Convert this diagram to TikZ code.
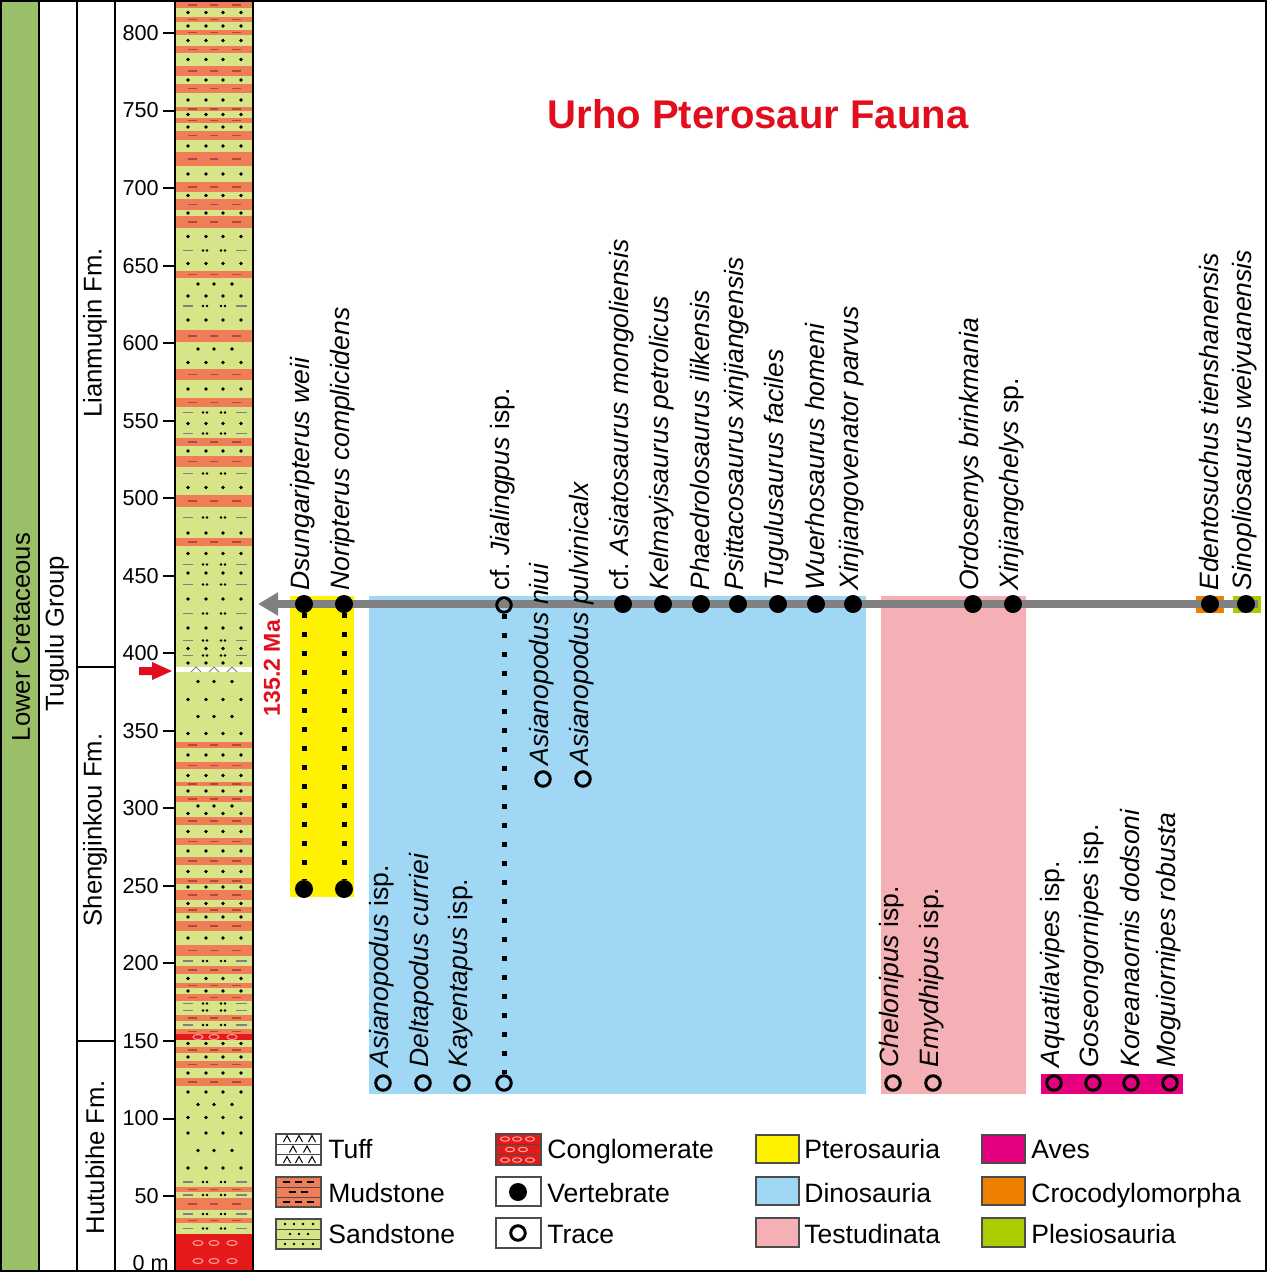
\documentclass[tikz,border=0pt]{standalone}
\usepackage{fontspec}
\setmainfont{Liberation Sans}
\usetikzlibrary{arrows.meta}

\newcommand{\bedS}[2]{%
\fill[sandcolor] (175,#1) rectangle (253,#2);
\pgfmathsetmacro\bedmid{(#1+#2)/2}
\foreach \xx in {188,206,223,241} {\fill (\xx,\bedmid) circle [radius=0.36mm];}
\draw[bedline] (175,#2) -- (253,#2);}
\newcommand{\bedT}[2]{%
\fill[sandcolor] (175,#1) rectangle (253,#2);
\pgfmathsetmacro\bedmid{(#1+#2)/2}
\foreach \xx in {198,214,232} {\fill (\xx,\bedmid) circle [radius=0.36mm];}
\draw[bedline] (175,#2) -- (253,#2);}
\newcommand{\bedL}[2]{%
\fill[sandcolor] (175,#1) rectangle (253,#2);
\pgfmathsetmacro\bedmid{(#1+#2)/2}
\draw[black!50,line width=0.28mm] (183,\bedmid) -- (193,\bedmid) (236,\bedmid) -- (247,\bedmid);
\foreach \xx in {203,207,221,225} {\fill (\xx,\bedmid) circle [radius=0.28mm];}
\draw[bedline] (175,#2) -- (253,#2);}
\newcommand{\bedM}[2]{%
\fill[mudcolor] (175,#1) rectangle (253,#2);
\pgfmathsetmacro\bedmid{(#1+#2)/2}
\draw[mudline,line width=0.28mm] (188,\bedmid) -- (197,\bedmid) (210,\bedmid) -- (218,\bedmid) (232,\bedmid) -- (241,\bedmid);
\draw[bedline] (175,#2) -- (253,#2);}
\newcommand{\bedC}[2]{%
\fill[conglcolor] (175,#1) rectangle (253,#2);
\pgfmathsetmacro\bedmid{(#1+#2)/2}
\foreach \xx in {198,214,232} {\draw[red!35,line width=0.2mm] (\xx,\bedmid) ellipse [x radius=1mm,y radius=0.5mm];}
\draw[bedline] (175,#2) -- (253,#2);}
\newcommand{\bedW}[2]{%
\fill[white] (175,#1) rectangle (253,#2);
\foreach \xx in {196,214,232} {\draw[black!50,line width=0.2mm] ({\xx-5},#2) -- (\xx,#1) -- ({\xx+5},#2);}
\draw[bedline] (175,#2) -- (253,#2);}

\begin{document}
\begin{tikzpicture}[x=0.2mm,y=-0.2mm,
  every node/.style={inner sep=0pt},
  taxon/.style={rotate=90,anchor=west,font=\fontsize{15.1}{18}\selectfont},
  vert/.style={circle,fill=black,minimum size=3.6mm},
  trace/.style={circle,draw=black,line width=0.6mm,minimum size=2.9mm},
  rangeline/.style={line width=1mm,dash pattern=on 1mm off 2.8mm},
  colrule/.style={line width=0.4mm},
  bedline/.style={line width=0.15mm,draw=black!70},
  swatch/.style={draw=black!70,line width=0.25mm},
  legtext/.style={anchor=base west,font=\fontsize{15.1}{18}\selectfont},
  scalenum/.style={anchor=east,font=\fontsize{12.3}{14}\selectfont},
  unitname/.style={rotate=90,font=\fontsize{14.6}{17}\selectfont}]
\definecolor{sandcolor}{RGB}{215,228,135}
\definecolor{mudcolor}{RGB}{238,125,88}
\definecolor{mudline}{RGB}{175,75,50}
\definecolor{conglcolor}{RGB}{228,25,25}
\definecolor{agecolor}{RGB}{155,190,105}
\definecolor{titlecolor}{RGB}{225,15,30}
\definecolor{pterocolor}{RGB}{255,242,0}
\definecolor{dinocolor}{RGB}{160,215,245}
\definecolor{testcolor}{RGB}{244,176,180}
\definecolor{avescolor}{RGB}{228,0,127}
\definecolor{crococolor}{RGB}{238,128,0}
\definecolor{plesiocolor}{RGB}{170,204,0}
\definecolor{arrowgray}{RGB}{128,128,128}
\useasboundingbox (0,0) rectangle (1268,1273);
\fill[agecolor] (2,2) rectangle (38,1271);
\foreach \ya/\yb/\k in {2/8/M,8/17/S,17/22/M,22/30/S,30/35/M,35/46/S,46/53/M,53/66/S,66/76/M,76/84/S,84/93/M,93/107/S,107/111/M,111/118/S,118/123/M,123/131/S,131/140/M,140/152/S,152/166/M,166/182/S,182/192/M,192/199/S,199/210/M,210/216/S,216/228/M,228/245/S,245/256/L,256/271/S,271/278/M,278/290/T,290/302/S,302/310/L,310/330/S,330/342/M,342/356/T,356/369/S,369/380/M,380/398/S,398/407/M,407/418/L,418/429/S,429/438/L,438/446/M,446/456/S,456/467/M,467/480/L,480/495/S,495/507/M,507/528/L,528/538/S,538/546/M,546/561/S,561/568/L,568/578/S,578/591/L,591/607/S,607/620/L,620/636/S,636/645/L,645/652/S,652/659/L,659/667/S,667/672/W,672/691/T,691/708/S,708/725/T,725/742/S,742/748/M,748/762/S,762/769/M,769/782/S,782/786/M,786/796/S,796/802/M,802/810/T,810/817/S,817/825/M,825/838/S,838/845/M,845/857/S,857/865/M,865/878/S,878/884/M,884/890/S,890/900/M,900/907/S,907/913/M,913/921/S,921/931/M,931/945/S,945/956/M,956/966/L,966/974/M,974/983/S,983/988/M,988/994/S,994/1001/M,1001/1006/L,1006/1015/L,1015/1021/M,1021/1029/L,1029/1034/M,1034/1040/C,1040/1047/S,1047/1053/M,1053/1061/S,1061/1068/M,1068/1078/S,1078/1086/M,1086/1098/S,1098/1111/T,1111/1124/S,1124/1142/S,1142/1159/T,1159/1177/S,1177/1187/L,1187/1192/M,1192/1198/L,1198/1210/M,1210/1218/L,1218/1223/M,1223/1234/L,1234/1252/C,1252/1270/C}
  {\csname bed\k\endcsname{\ya}{\yb}}
\draw[colrule] (39,1) -- (39,1271) (77,1) -- (77,1271) (115,1) -- (115,1271) (175,1) -- (175,1271) (253,1) -- (253,1271);
\draw[colrule] (77,667) -- (115,667) (77,1041) -- (115,1041);
\draw[colrule] (1,1) rectangle (1266,1271);
\node[unitname] (lowcret) at (21,637) {Lower Cretaceous};
\node[unitname] (tugulu) at (57,634) {Tugulu Group};
\node[unitname] (lianmuqin) at (95,333) {Lianmuqin Fm.};
\node[unitname] (shengjinkou) at (95,830) {Shengjinkou Fm.};
\node[unitname] (hutubihe) at (95,1157) {Hutubihe Fm.};
\foreach \m in {50,100,...,800} {
  \draw[colrule] (163,{1273.6-1.5508*\m}) -- (175,{1273.6-1.5508*\m});
  \node[scalenum] (tick\m) at (159,{1273.6-1.5508*\m}) {\m};}
\node[scalenum] (tick0) at (169,1263) {0 m};
\fill[titlecolor] (139,667) -- (152,667) -- (152,662) -- (172,671) -- (152,680) -- (152,675) -- (139,675) -- cycle;
\node[rotate=90,font=\fontsize{13.1}{15}\selectfont\bfseries,text=titlecolor] (agelabel) at (272,668) {135.2 Ma};
\node[font=\fontsize{22.8}{26}\selectfont\bfseries,text=titlecolor] (title) at (758,114) {Urho Pterosaur Fauna};
\fill[pterocolor] (290,596) rectangle (354,897);
\fill[dinocolor] (369,596) rectangle (866,1094);
\fill[testcolor] (881,596) rectangle (1026,1094);
\fill[avescolor] (1041,1074) rectangle (1183,1094);
\fill[crococolor] (1196,596) rectangle (1224,613);
\fill[plesiocolor] (1233,596) rectangle (1261,613);
\coordinate (arrowend) at (1258,604);
\coordinate (arrowtip) at (258,604);
\draw[arrowgray,line width=1.6mm,-{Triangle[length=4mm,width=4.4mm]}] (arrowend) -- (arrowtip);
\node[vert] (dsu) at (304,604) {};
\node[vert] (dsub) at (304,889) {};
\node[vert] (nor) at (344,604) {};
\node[vert] (norb) at (344,889) {};
\node[trace] (jia) at (504,605) {};
\node[trace] (jiab) at (504,1083) {};
\draw[rangeline] (dsu) -- (dsub);
\draw[rangeline] (nor) -- (norb);
\draw[rangeline] (jia) -- (jiab);
\node[vert] (asi) at (623,604) {};
\node[vert] (kel) at (663,604) {};
\node[vert] (pha) at (701,604) {};
\node[vert] (psi) at (738,604) {};
\node[vert] (tug) at (778,604) {};
\node[vert] (wue) at (816,604) {};
\node[vert] (xve) at (853,604) {};
\node[vert] (ord) at (973,604) {};
\node[vert] (xch) at (1013,604) {};
\node[vert] (ede) at (1210,604) {};
\node[vert] (sin) at (1246,604) {};
\node[trace] (anu) at (543,779) {};
\node[trace] (apu) at (583,779) {};
\node[trace] (aisp) at (383,1083) {};
\node[trace] (del) at (423,1083) {};
\node[trace] (kay) at (462,1083) {};
\node[trace] (che) at (893,1083) {};
\node[trace] (emy) at (933,1083) {};
\node[trace] (aqu) at (1054,1083) {};
\node[trace] (gos) at (1093,1083) {};
\node[trace] (kor) at (1131,1083) {};
\node[trace] (mog) at (1170,1083) {};
\node[taxon] (dsul) at (303,591) {\textit{Dsungaripterus weii}};
\node[taxon] (norl) at (343,591) {\textit{Noripterus complicidens}};
\node[taxon] (jial) at (503,591) {cf.\ \textit{Jialingpus} isp.};
\node[taxon] (asil) at (622,591) {cf.\ \textit{Asiatosaurus mongoliensis}};
\node[taxon] (kell) at (662,591) {\textit{Kelmayisaurus petrolicus}};
\node[taxon] (phal) at (700,591) {\textit{Phaedrolosaurus ilikensis}};
\node[taxon] (psil) at (737,591) {\textit{Psittacosaurus xinjiangensis}};
\node[taxon] (tugl) at (777,591) {\textit{Tugulusaurus faciles}};
\node[taxon] (wuel) at (815,591) {\textit{Wuerhosaurus homeni}};
\node[taxon] (xvel) at (852,591) {\textit{Xinjiangovenator parvus}};
\node[taxon] (ordl) at (972,591) {\textit{Ordosemys brinkmania}};
\node[taxon] (xchl) at (1012,591) {\textit{Xinjiangchelys} sp.};
\node[taxon] (edel) at (1209,591) {\textit{Edentosuchus tienshanensis}};
\node[taxon] (sinl) at (1245,591) {\textit{Sinopliosaurus weiyuanensis}};
\node[taxon] (anul) at (542,766) {\textit{Asianopodus niui}};
\node[taxon] (apul) at (582,766) {\textit{Asianopodus pulvinicalx}};
\node[taxon] (aispl) at (382,1068) {\textit{Asianopodus} isp.};
\node[taxon] (dell) at (422,1068) {\textit{Deltapodus curriei}};
\node[taxon] (kayl) at (461,1068) {\textit{Kayentapus} isp.};
\node[taxon] (chel) at (892,1068) {\textit{Chelonipus} isp.};
\node[taxon] (emyl) at (932,1068) {\textit{Emydhipus} isp.};
\node[taxon] (aqul) at (1053,1068) {\textit{Aquatilavipes} isp.};
\node[taxon] (gosl) at (1092,1068) {\textit{Goseongornipes} isp.};
\node[taxon] (korl) at (1130,1068) {\textit{Koreanaornis dodsoni}};
\node[taxon] (mogl) at (1169,1068) {\textit{Moguiornipes robusta}};
\draw[swatch,fill=white] (276,1134) rectangle (321,1165);
\draw[bedline] (276,1144.3) -- (321,1144.3) (276,1154.7) -- (321,1154.7);
\foreach \xx/\yy in {287/1142,299/1142,312/1142,293/1152.5,307/1152.5,287/1163,299/1163,312/1163}
  {\draw[line width=0.2mm] ({\xx-3.5},\yy) -- (\xx,{\yy-6.5}) -- ({\xx+3.5},\yy);}
\draw[swatch,fill=mudcolor] (276,1177) rectangle (321,1207);
\draw[bedline] (276,1187) -- (321,1187) (276,1197) -- (321,1197);
\foreach \xx/\yy in {286/1182,298/1182,310/1182,292/1192,304/1192,286/1202,298/1202,310/1202}
  {\draw[line width=0.25mm] ({\xx-3.5},\yy) -- ({\xx+3.5},\yy);}
\draw[swatch,fill=sandcolor] (276,1219) rectangle (321,1249);
\draw[bedline] (276,1229) -- (321,1229) (276,1239) -- (321,1239);
\foreach \xx/\yy in {285/1224,294/1224,303/1224,313/1224,290/1234,299/1234,308/1234,285/1244,294/1244,303/1244,313/1244}
  {\fill (\xx,\yy) circle [radius=0.28mm];}
\draw[swatch,fill=conglcolor] (496,1134) rectangle (541,1165);
\draw[bedline] (496,1144.3) -- (541,1144.3) (496,1154.7) -- (541,1154.7);
\foreach \xx/\yy in {505/1139,517/1139,530/1139,510/1149.5,523/1149.5,505/1160,517/1160,530/1160}
  {\draw[red!35,line width=0.2mm] (\xx,\yy) ellipse [x radius=0.9mm,y radius=0.45mm];}
\draw[swatch,fill=white] (496,1177) rectangle (541,1206);
\node[vert] (legvert) at (518,1192) {};
\draw[swatch,fill=white] (496,1218) rectangle (541,1248);
\node[trace] (legtrace) at (518,1233) {};
\draw[swatch,fill=pterocolor] (756,1135) rectangle (799,1163);
\draw[swatch,fill=dinocolor] (756,1177) rectangle (799,1205);
\draw[swatch,fill=testcolor] (756,1218) rectangle (799,1247);
\draw[swatch,fill=avescolor] (982,1135) rectangle (1025,1163);
\draw[swatch,fill=crococolor] (982,1177) rectangle (1025,1205);
\draw[swatch,fill=plesiocolor] (982,1218) rectangle (1025,1247);
\node[legtext] (legtuff) at (328,1158) {Tuff};
\node[legtext] (legmud) at (328,1202) {Mudstone};
\node[legtext] (legsand) at (328,1243) {Sandstone};
\node[legtext] (legcongl) at (547,1158) {Conglomerate};
\node[legtext] (legvertl) at (547,1202) {Vertebrate};
\node[legtext] (legtracel) at (547,1243) {Trace};
\node[legtext] (legptero) at (804,1158) {Pterosauria};
\node[legtext] (legdino) at (804,1202) {Dinosauria};
\node[legtext] (legtest) at (804,1243) {Testudinata};
\node[legtext] (legaves) at (1031,1158) {Aves};
\node[legtext] (legcroco) at (1031,1202) {Crocodylomorpha};
\node[legtext] (legplesio) at (1031,1243) {Plesiosauria};
\end{tikzpicture}
\end{document}
